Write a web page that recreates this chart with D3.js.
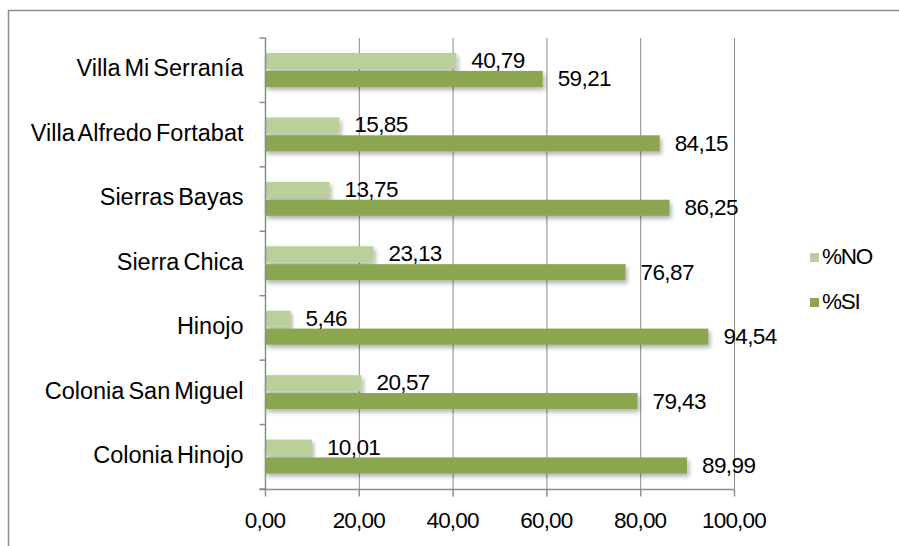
<!DOCTYPE html>
<html><head><meta charset="utf-8">
<script src="https://cdn.jsdelivr.net/npm/d3@7"></script>
<style>body{margin:0;background:#fff}svg{display:block}text{font-family:"Liberation Sans",Arial,sans-serif;fill:#000}</style>
</head><body>
<svg id="c" width="899" height="546"></svg>
<script>
const categories = ["Villa Mi Serranía","Villa Alfredo Fortabat","Sierras Bayas","Sierra Chica","Hinojo","Colonia San Miguel","Colonia Hinojo"];
const valuesNO = [40.79,15.85,13.75,23.13,5.46,20.57,10.01];
const valuesSI = [59.21,84.15,86.25,76.87,94.54,79.43,89.99];
const seriesNames = ["%NO","%SI"];
const xTicks = [0,20,40,60,80,100];
const colors = ["#b9d09a","#8aa650"];

const FS = 22.5;
const svg = d3.select("#c");
const defs = svg.append("defs");
const f = defs.append("filter").attr("id","sh").attr("x","-5%").attr("y","-40%").attr("width","115%").attr("height","200%");
f.append("feDropShadow").attr("dx",2).attr("dy",3).attr("stdDeviation",2).attr("flood-color","#000").attr("flood-opacity",0.3);

// outer frame
svg.append("path").attr("d","M8.5,546 V10.5 H899").attr("fill","none").attr("stroke","#8c8c8c").attr("stroke-width",1.5);

const x = d3.scaleLinear().domain([0,100]).range([265,734]);
const y = d3.scaleBand().domain(categories).range([38,489]);
const yIn = d3.scaleBand().domain(seriesNames).range([15,49]).paddingInner(0.1);

// gridlines
svg.append("g").selectAll("line").data(xTicks.slice(1)).join("line")
  .attr("x1",d=>x(d)+0.5).attr("x2",d=>x(d)+0.5).attr("y1",38).attr("y2",489)
  .attr("stroke","#8c8c8c").attr("stroke-width",1);

const fmt = v => v.toFixed(2).replace(".",",");

const data = categories.map((c,i)=>({c, vals:[valuesNO[i],valuesSI[i]]}));
const g = svg.append("g");
data.forEach(d=>{
  d.vals.forEach((v,j)=>{
    const y0 = y(d.c)+yIn(seriesNames[j]);
    const h = yIn.bandwidth();
    g.append("rect").attr("x",x(0)).attr("y",y0).attr("width",x(v)-x(0)).attr("height",h)
      .attr("fill",colors[j]).attr("filter","url(#sh)");
  });
});
data.forEach(d=>{
  d.vals.forEach((v,j)=>{
    const y0 = y(d.c)+yIn(seriesNames[j]);
    const h = yIn.bandwidth();
    g.append("text").attr("x",x(v)+15).attr("y",y0+h/2+(j===0?1:1.5))
      .attr("dominant-baseline","middle").attr("font-size",FS).attr("letter-spacing",-0.6)
      .text(fmt(v));
  });
});

// y axis
const yAxis = svg.append("g").attr("transform","translate(265.5,0)");
yAxis.append("line").attr("y1",38).attr("y2",489).attr("stroke","#8c8c8c").attr("stroke-width",1.5);
yAxis.selectAll("line.t").data(d3.range(8)).join("line").attr("class","t")
  .attr("x1",-6).attr("x2",0).attr("y1",i=>38+i*y.step()).attr("y2",i=>38+i*y.step())
  .attr("stroke","#8c8c8c").attr("stroke-width",1.5);
yAxis.selectAll("text").data(categories).join("text")
  .attr("x",-22).attr("y",d=>y(d)+y.bandwidth()/2).attr("text-anchor","end")
  .attr("dominant-baseline","middle").attr("font-size",23.5).attr("letter-spacing",0).attr("word-spacing",-2.5).text(d=>d);

// x axis
const xAxis = svg.append("g").attr("transform","translate(0,489.5)");
xAxis.append("line").attr("x1",259).attr("x2",734).attr("stroke","#8c8c8c").attr("stroke-width",1.5);
xAxis.selectAll("line.t").data(xTicks).join("line").attr("class","t")
  .attr("x1",d=>x(d)+0.5).attr("x2",d=>x(d)+0.5).attr("y1",0).attr("y2",7)
  .attr("stroke","#8c8c8c").attr("stroke-width",1.5);
xAxis.selectAll("text").data(xTicks).join("text")
  .attr("x",d=>x(d)).attr("y",33).attr("text-anchor","middle").attr("dominant-baseline","middle")
  .attr("font-size",FS).attr("letter-spacing",-0.8).text(d=>fmt(d));

// legend
const leg = svg.append("g");
seriesNames.forEach((s,i)=>{
  const ly = 258 + i*45;
  leg.append("rect").attr("x",810).attr("y",ly-5).attr("width",9).attr("height",9).attr("fill",colors[i]);
  leg.append("text").attr("x",822).attr("y",ly).attr("dominant-baseline","middle")
    .attr("font-size",FS).attr("letter-spacing",-1.2).text(s);
});
</script>
</body></html>
